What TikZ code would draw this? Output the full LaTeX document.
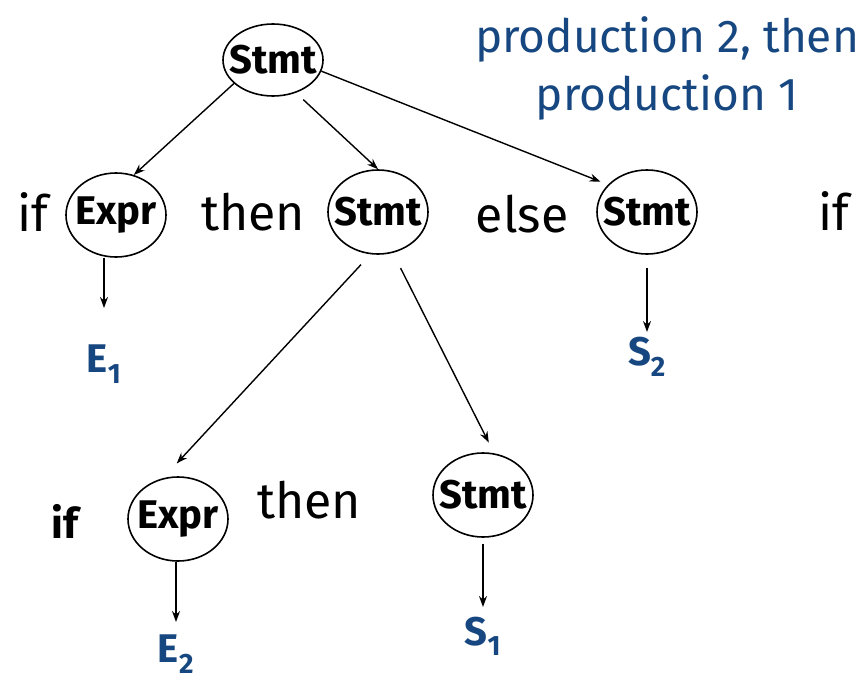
\documentclass[tikz,border=0pt]{standalone}
\usepackage{fontspec}
\setmainfont{Fira Sans}
\usetikzlibrary{shapes.geometric,arrows.meta}
\definecolor{prodblue}{RGB}{23,71,128}
\newcommand{\symtext}[1]{\makebox[0pt]{#1}}
\tikzset{
  sym/.style={draw, ellipse, line width=1.6pt, minimum width=100pt, minimum height=84pt,
    inner sep=0pt, font=\fontsize{40}{40}\selectfont\bfseries},
  kw/.style={inner sep=0pt, font=\fontsize{50}{50}\selectfont},
  leaf/.style={inner sep=0pt, anchor=north, text=prodblue, font=\fontsize{40}{40}\selectfont\bfseries},
  link/.style={-{Stealth[length=11pt,width=8pt]}, line width=1.4pt}
}
\begin{document}
\begin{tikzpicture}[x=1pt,y=-1pt]
    \useasboundingbox (0,0) rectangle (861,685);
    % tree
    \node[sym, minimum height=72pt] (root) at (273,60) {\symtext{Stmt}};
    \node[sym] (expr1) at (116,215) {\symtext{Expr}};
    \node[sym] (stmtA) at (378,212) {\symtext{Stmt}};
    \node[sym] (stmtB) at (647,212) {\symtext{Stmt}};
    \node[sym] (expr2) at (178,519) {\symtext{Expr}};
    \node[sym] (stmtC) at (483,495) {\symtext{Stmt}};
    % keywords
    \node[kw] (if1) at (33,212) {if};
    \node[kw] (then1) at (253,212) {then};
    \node[kw] (else1) at (522,214) {else};
    \node[kw] (if2) at (834,211) {if};
    \node[kw, font=\fontsize{42}{42}\selectfont\bfseries] (if3) at (65,521) {if};
    \node[kw] (then2) at (309,500) {then};
    % leaves
    \node[leaf] (e1) at (104,345) {E\textsubscript{1}};
    \node[leaf] (s2) at (647,337) {S\textsubscript{2}};
    \node[leaf] (e2) at (176,635) {E\textsubscript{2}};
    \node[leaf] (s1) at (483,617) {S\textsubscript{1}};
    \node[text=prodblue, align=center, font=\fontsize{46}{58}\selectfont] (note) at (667,68)
        {production 2, then\\production 1};
    % edges
    \draw[link] (root.-149) -- (expr1.66);
    \draw[link, shorten <=10pt] (root.-55) -- (stmtA.north);
    \draw[link, shorten >=8pt] (root.-13) -- (stmtB.145);
    \draw[link, shorten <=14pt, shorten >=20pt] (stmtA.-100) -- (expr2.110);
    \draw[link, shorten <=17pt, shorten >=12pt] (stmtA.-70) -- (stmtC.75);
    \draw[link, shorten >=37pt] (expr1.south -| e1.north) -- (e1.north);
    \draw[link, shorten <=13pt, shorten >=5pt] (stmtB.south) -- (s2.north);
    \draw[link, shorten >=13pt] (expr2.south -| e2.north) -- (e2.north);
    \draw[link, shorten <=6pt, shorten >=10pt] (stmtC.south) -- (s1.north);
\end{tikzpicture}
\end{document}
